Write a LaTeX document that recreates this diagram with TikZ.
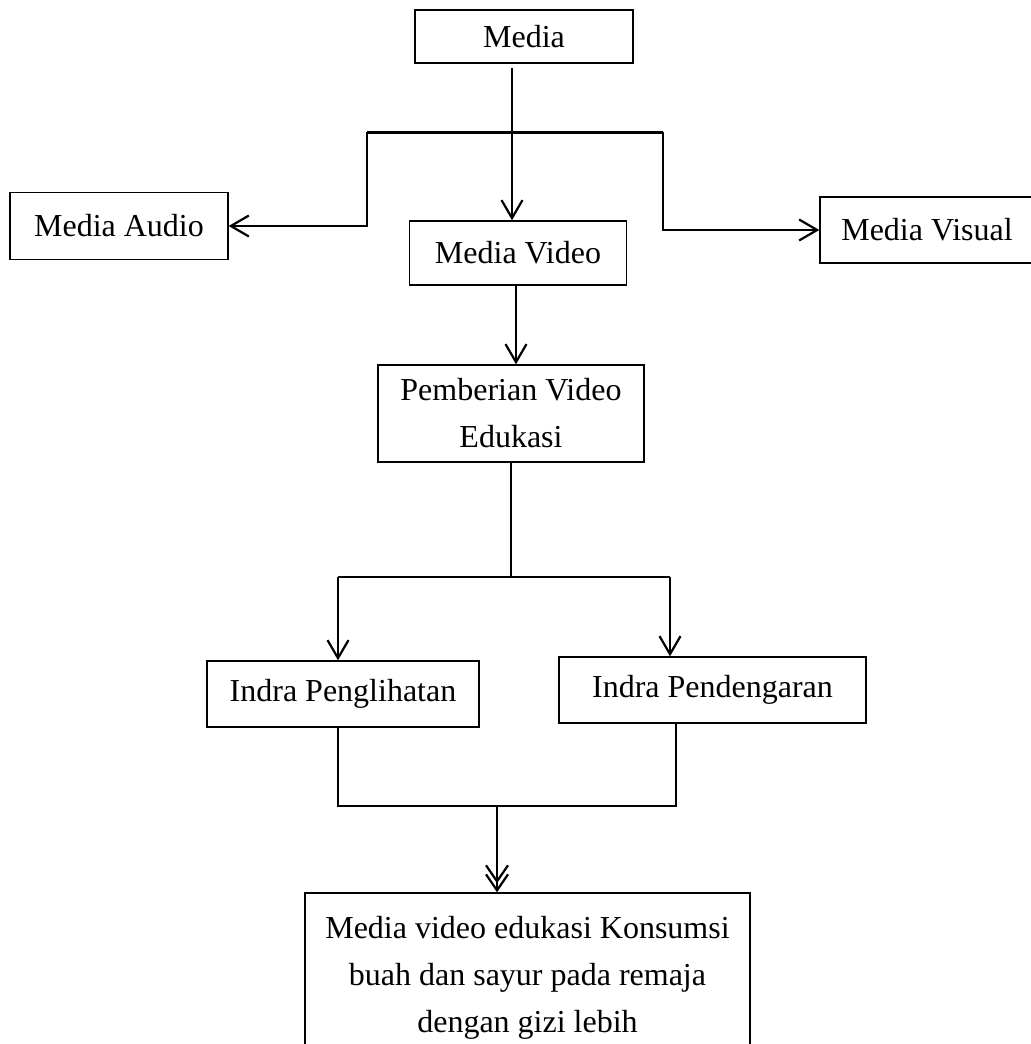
\documentclass[tikz,border=0pt]{standalone}
\usepackage{fontspec}
\setmainfont{Liberation Serif}
\usetikzlibrary{arrows.meta}

\begin{document}
\begin{tikzpicture}[x=0.5pt, y=-0.5pt,
    every node/.style={font=\fontsize{16}{23.5}\selectfont},
    kotak/.style={draw, line width=0.7pt, inner sep=0pt, align=center},
    panah/.style={line width=1.1pt, -{Straight Barb[length=9pt,width=10.5pt,line width=1.1pt]}},
    garis/.style={line width=1.1pt},
    panahdua/.style={line width=1.1pt, -{Straight Barb[length=8pt,width=11pt,line width=1.1pt,sep=-5pt] Straight Barb[length=8pt,width=11pt,line width=1.1pt]}}]

\useasboundingbox (0,0) rectangle (1031,1044);

\node[kotak, minimum width=109pt, minimum height=26.5pt] (media) at (524,36.5) {Media};
\node[kotak, minimum width=109pt, minimum height=33.5pt] (audio) at (119,226) {Media Audio};
\node[kotak, minimum width=108.5pt, minimum height=32pt] (video) at (518,253) {Media Video};
\node[kotak, minimum width=107pt, minimum height=33pt] (visual) at (927,230) {Media Visual};
\node[kotak, minimum width=133pt, minimum height=48.5pt] (pemberian) at (511,413.5) {Pemberian Video\\Edukasi};
\node[kotak, minimum width=136pt, minimum height=33pt] (lihat) at (343,694) {Indra Penglihatan};
\node[kotak, minimum width=153.5pt, minimum height=33pt] (dengar) at (712.5,690) {Indra Pendengaran};
\node[kotak, minimum width=222.5pt, minimum height=85pt] (hasil) at (527.5,978) {Media video edukasi Konsumsi\\buah dan sayur pada remaja\\dengan gizi lebih};

\coordinate (m1) at (512,68);
\coordinate (ja) at (367,132);
\coordinate (jb) at (663,132);
\coordinate (sl) at (338,577);
\coordinate (sr) at (670,577);
\coordinate (ml) at (338,806);
\coordinate (mr) at (676,806);
\coordinate (mm) at (497,806);

\draw[panah, line width=0.8pt] (m1) -- (m1 |- video.north);
\draw[garis, line width=1.5pt] (ja) -- (jb);
\draw[panah] (ja) |- (audio.east);
\draw[panah] (jb) |- (visual.west);
\draw[panah] (video.south -| 516,0) -- (516,0 |- pemberian.north);

\draw[garis] (pemberian.south) -- (pemberian.south |- sl);
\draw[garis] (sl) -- (sr);
\draw[panah] (sl) -- (sl |- lihat.north);
\draw[panah] (sr) -- (sr |- dengar.north);

\draw[garis] (ml |- lihat.south) -- (ml) -- (mr) -- (mr |- dengar.south);
\draw[panahdua] (mm) -- (mm |- hasil.north);

\end{tikzpicture}
\end{document}
